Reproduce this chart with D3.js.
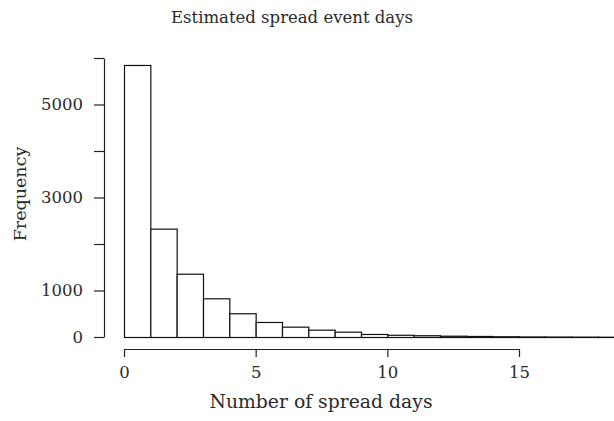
<!DOCTYPE html>
<html>
<head>
<meta charset="utf-8">
<script src="https://cdn.jsdelivr.net/npm/d3@7"></script>
<style>
  html, body { margin: 0; padding: 0; background: #fff; }
  svg { display: block; }
  text { font-family: "DejaVu Serif", serif; fill: #2a2a2a; }
</style>
</head>
<body>
<script>
// Histogram of estimated spread-event days (bin width = 1 day)
const binStarts = [0, 1, 2, 3, 4, 5, 6, 7, 8, 9, 10, 11, 12, 13, 14, 15, 16, 17, 18, 19, 20, 21, 22];
const binCounts = [5850, 2330, 1361, 832, 510, 323, 222, 157, 114, 65, 48, 38, 28, 22, 16, 12, 10, 8, 6, 5, 4, 3, 2];
const xTicks = [0, 5, 10, 15];
const yTicks = [0, 1000, 2000, 3000, 4000, 5000, 6000];
const yLabels = [0, 1000, 3000, 5000];
const titleText = "Estimated spread event days";
const xTitle = "Number of spread days";
const yTitle = "Frequency";

const W = 614, H = 421;
const svg = d3.select("body").append("svg").attr("width", W).attr("height", H);

const x = d3.scaleLinear().domain([0, 15]).range([124, 519]);
const y = d3.scaleLinear().domain([0, 6000]).range([337, 58]);

// bars
svg.append("g")
  .selectAll("rect")
  .data(binStarts.map((s, i) => ({ x0: s, x1: s + 1, n: binCounts[i] })))
  .join("rect")
  .attr("x", d => x(d.x0) + 0.5)
  .attr("y", d => y(d.n) + 0.5)
  .attr("width", d => x(d.x1) - x(d.x0))
  .attr("height", d => y(0) - y(d.n))
  .attr("fill", "#fff")
  .attr("stroke", "#111")
  .attr("stroke-width", 1.2);

// x axis, offset below the bars
const gx = svg.append("g")
  .attr("transform", "translate(0,349)")
  .call(d3.axisBottom(x).tickValues(xTicks).tickSize(8).tickSizeOuter(0).tickPadding(9));

// y axis, offset left of the bars
const gy = svg.append("g")
  .attr("transform", "translate(104,0)")
  .call(d3.axisLeft(y).tickValues(yTicks).tickSize(10).tickSizeOuter(0).tickPadding(11)
    .tickFormat(d => yLabels.includes(d) ? d : ""));

[gx, gy].forEach(g => {
  g.select(".domain").attr("stroke", "#222").attr("stroke-width", 1.2);
  g.selectAll(".tick line").attr("stroke", "#222").attr("stroke-width", 1.2);
  g.selectAll(".tick text").attr("font-family", "DejaVu Serif, serif")
    .attr("font-size", 16.5).attr("fill", "#2a2a2a");
});

svg.append("text")
  .attr("x", 292).attr("y", 23)
  .attr("text-anchor", "middle").attr("font-size", 16.5)
  .text(titleText);

svg.append("text")
  .attr("x", 321).attr("y", 408)
  .attr("text-anchor", "middle").attr("font-size", 18.8)
  .text(xTitle);

svg.append("text")
  .attr("transform", "translate(26,194) rotate(-90)")
  .attr("text-anchor", "middle").attr("font-size", 17.5)
  .text(yTitle);
</script>
</body>
</html>
